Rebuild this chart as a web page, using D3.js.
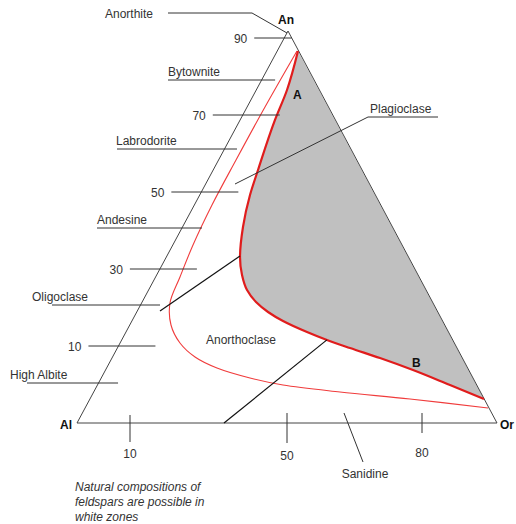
<!DOCTYPE html>
<html><head><meta charset="utf-8">
<script src="https://cdn.jsdelivr.net/npm/d3@7"></script>
<style>
html,body{margin:0;padding:0;background:#fff;}
svg{display:block;}
text{font-family:"Liberation Sans",Arial,sans-serif;font-size:12px;fill:#333;}
</style>
</head><body>
<svg id="chart" width="516" height="524"></svg>
<script>
// ---------------- data ----------------
const vertexNames = ["Al", "Or", "An"];
const vertexCoords = [[0, 0], [100, 0], [50.24, 100]];
const anTicks = [10, 30, 50, 70, 90];
const orTicks = [10, 50, 80];
const plagioclaseNames = ["Bytownite", "Labrodorite", "Andesine", "Oligoclase", "High Albite"];
const plagioclaseAn = [80, 60, 40, 20, 0];
const regionNames = ["Plagioclase", "Anorthoclase", "Sanidine", "Anorthite"];
// limit of natural compositions, curve A–B (bold)
const limitAB = [[52.62,94.90],[50.0,84.95],[47.14,77.30],[43.10,64.54],[41.19,58.16],[39.52,50.0],[38.81,42.35],[39.29,37.76],[40.48,33.93],[42.62,30.87],[45.48,28.32],[49.05,26.02],[54.76,23.21],[59.52,21.17],[65.0,19.13],[72.14,16.58],[80.0,13.52],[88.81,9.69],[96.90,6.12]];
// outer (thin) limit
const limitOuter = [[52.38,94.90],[44.76,80.61],[37.86,67.09],[32.14,55.61],[27.62,45.41],[24.52,37.24],[22.14,30.61],[22.38,25.0],[24.52,20.41],[28.10,16.84],[33.33,14.03],[41.19,11.48],[49.05,9.69],[62.62,7.91],[79.29,6.12],[97.86,3.83]];
// boundary tie lines (from curve to edge / into field)
const tieLines = [[[38.8,42.6],[19.76,28.57]], [[59.5,21.2],[35.0,0]]];
const noteLines = ["Natural compositions of", "feldspars are possible in", "white zones"];

// ---------------- scales ----------------
const svg = d3.select("#chart");
const x = d3.scaleLinear().domain([0, 100]).range([77, 497]);
const y = d3.scaleLinear().domain([0, 100]).range([423, 31]);
const anY = d3.scaleLinear().domain([0, 100]).range([384.5, -0.5]);   // An % label levels
const orX = d3.scaleLinear().domain([0, 10, 50, 80, 100]).range([77, 130, 287, 422, 497]); // Or % labels

const apex = vertexCoords[2];
const leftEdgeX = py => x(apex[0] * y.invert(py) / 100);
const rightEdgeX = py => x(100 - (100 - apex[0]) * y.invert(py) / 100);

const line = d3.line().x(d => x(d[0])).y(d => y(d[1])).curve(d3.curveMonotoneY);
const smooth = d3.line().x(d => x(d[0])).y(d => y(d[1])).curve(d3.curveCatmullRom.alpha(0.5));
const straight = d3.line().x(d => x(d[0])).y(d => y(d[1]));

// grey zone
svg.append("path").attr("d", line(limitAB) + "Z").attr("fill", "#c0c0c0").attr("stroke", "none");

// triangle
svg.append("path").attr("d", straight(vertexCoords) + "Z")
  .attr("fill", "none").attr("stroke", "#444").attr("stroke-width", 1);

// red limits
svg.append("path").attr("d", smooth(limitOuter)).attr("fill", "none")
  .attr("stroke", "#f03c3c").attr("stroke-width", 1.1);
svg.append("path").attr("d", line(limitAB)).attr("fill", "none")
  .attr("stroke", "#e01c1c").attr("stroke-width", 2.2);

// tie lines
tieLines.forEach(t => svg.append("path").attr("d", straight(t)).attr("fill", "none")
  .attr("stroke", "#111").attr("stroke-width", 1.2));

const g = svg.append("g");
const hline = (x1, x2, yy) => g.append("line").attr("x1", x1).attr("x2", x2).attr("y1", yy).attr("y2", yy)
  .attr("stroke", "#333").attr("stroke-width", 1);

// left An ticks
anTicks.forEach(v => {
  const py = Math.round(anY(v));
  const ex = leftEdgeX(py);
  const x1 = ex - 30, x2 = Math.min(ex + 37, rightEdgeX(py));
  hline(x1, x2, py);
  g.append("text").attr("x", x1 - 7).attr("y", py + 5).attr("text-anchor", "end").text(v);
});

// plagioclase series names (layout: text x, underline start, underline end offset, dy)
const nameLayout = [[168, 168, 13.5, 3.5], [116, 117, 12.5, -4.5], [97, 97, 20, -2.5], [32, 52, 19.5, -2.5], [10, 27, 19.5, -1.5]];
plagioclaseNames.forEach((n, i) => {
  const L = nameLayout[i];
  const py = Math.round(anY(plagioclaseAn[i]) + L[3]);
  hline(L[1], leftEdgeX(py) + L[2], py);
  g.append("text").attr("x", L[0]).attr("y", py - 4).text(n);
});

// bottom Or ticks
const tickLayout = [[415, 442, 457.5], [413, 443, 459.5], [413, 433, 456.5]];
orTicks.forEach((v, i) => {
  const px = orX(v), L = tickLayout[i];
  g.append("line").attr("x1", px).attr("x2", px).attr("y1", L[0]).attr("y2", L[1])
    .attr("stroke", "#333").attr("stroke-width", 1);
  g.append("text").attr("x", px).attr("y", L[2]).attr("text-anchor", "middle").text(v);
});

// region labels and leaders
const leader = pts => g.append("path").attr("d", d3.line()(pts)).attr("fill", "none")
  .attr("stroke", "#333").attr("stroke-width", 1);
// Plagioclase
leader([[438, 117], [368, 117], [235, 184]]);
g.append("text").attr("x", 370).attr("y", 113).text(regionNames[0]);
// Anorthoclase
g.append("text").attr("x", 241).attr("y", 344).attr("text-anchor", "middle").text(regionNames[1]);
// Sanidine
leader([[344, 413], [363, 462]]);
g.append("text").attr("x", 365).attr("y", 477.5).attr("text-anchor", "middle").text(regionNames[2]);
// Anorthite
leader([[168, 13], [252, 13], [x(apex[0]) - 1, y(apex[1]) + 2]]);
g.append("text").attr("x", 105).attr("y", 17.5).text(regionNames[3]);

// vertex labels
const vLabel = [[72, 429, "end"], [500, 429, "start"], [286, 24, "middle"]];
vertexNames.forEach((n, i) => g.append("text").attr("x", vLabel[i][0]).attr("y", vLabel[i][1])
  .attr("text-anchor", vLabel[i][2]).style("font-weight", "bold").style("fill", "#111").text(n));

// curve end labels
g.append("text").attr("x", x(limitAB[1][0]) + 6).attr("y", 99).style("font-weight", "bold").style("fill", "#111").text("A");
g.append("text").attr("x", 412).attr("y", 367).style("font-weight", "bold").style("fill", "#111").text("B");

// note
noteLines.forEach((t, i) => g.append("text").attr("x", 75).attr("y", 491 + i * 15)
  .style("font-style", "italic").text(t));
</script>
</body></html>
